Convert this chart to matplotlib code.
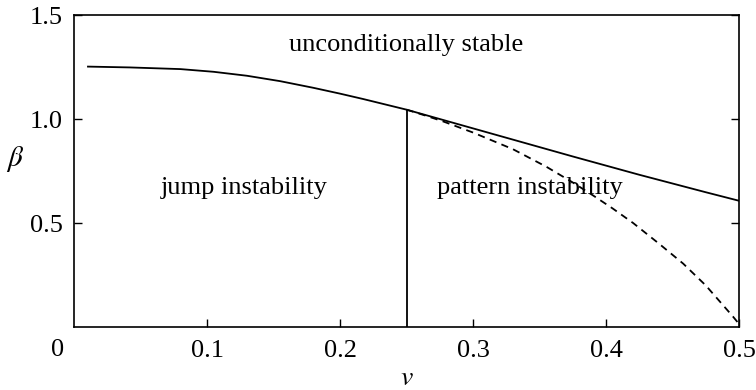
import numpy as np
import matplotlib
matplotlib.use('Agg')
import matplotlib.pyplot as plt

plt.rcParams['font.family'] = ['Liberation Serif', 'DejaVu Serif']
plt.rcParams['mathtext.fontset'] = 'stix'

# neutral stability boundary (solid)
v_upper = [0.0105, 0.042, 0.08, 0.105, 0.13, 0.155, 0.18, 0.2, 0.2175, 0.25,
           0.275, 0.3, 0.325, 0.35, 0.375, 0.4, 0.425, 0.45, 0.475, 0.5]
beta_upper = [1.252, 1.248, 1.240, 1.227, 1.208, 1.182, 1.15, 1.122, 1.096, 1.045,
              1.0, 0.955, 0.91, 0.865, 0.82, 0.776, 0.732, 0.69, 0.648, 0.607]

# lower boundary of pattern instability (dashed)
v_lower = [0.25, 0.265, 0.2777, 0.3, 0.33, 0.3553, 0.375, 0.3904, 0.405, 0.4204,
           0.44, 0.458, 0.475, 0.4955, 0.5]
beta_lower = [1.045, 1.015, 0.988, 0.935, 0.855, 0.77, 0.695, 0.632, 0.57, 0.50,
              0.40, 0.305, 0.2, 0.05, 0.015]

# jump / pattern divide
v_split = 0.25
beta_split = 1.045

xticks = [0.1, 0.2, 0.3, 0.4, 0.5]
xticklabels = ['0.1', '0.2', '0.3', '0.4', '0.5']
yticks = [0.5, 1.0, 1.5]
yticklabels = ['0.5', '1.0', '1.5']

fig = plt.figure(figsize=(7.56, 3.9), dpi=100)
ax = fig.add_axes([0.0979, 0.1615, 0.8796, 0.8])

ax.plot(v_upper, beta_upper, '-k', lw=1.3)
ax.plot(v_lower, beta_lower, '--k', lw=1.3, dashes=(4, 3))
ax.plot([v_split, v_split], [0, beta_split], '-k', lw=1.3)

ax.set_xlim(0, 0.5)
ax.set_ylim(0, 1.5)
ax.set_xticks(xticks)
ax.set_xticklabels(xticklabels)
ax.set_yticks(yticks)
ax.set_yticklabels(yticklabels)
ax.tick_params(direction='in', length=6, width=1, labelsize=19, right=True, top=False)
ax.tick_params(axis='x', pad=9)
ax.tick_params(axis='y', pad=8)
for s in ax.spines.values():
    s.set_linewidth(1.2)

ax.text(-0.012, -0.075, '0', fontsize=19, ha='center', va='center', transform=ax.get_xaxis_transform())

ax.text(0.25, 1.356, 'unconditionally stable', fontsize=19, ha='center', va='center')
ax.text(0.128, 0.67, 'jump instability', fontsize=19, ha='center', va='center')
ax.text(0.343, 0.67, 'pattern instability', fontsize=19, ha='center', va='center')

ax.set_xlabel(r'$v$', fontsize=20)
ax.xaxis.set_label_coords(0.5, -0.125)
ax.set_ylabel(r'$\beta$', fontsize=21, rotation=0)
ax.yaxis.set_label_coords(-0.088, 0.49)

plt.savefig('out.png')
